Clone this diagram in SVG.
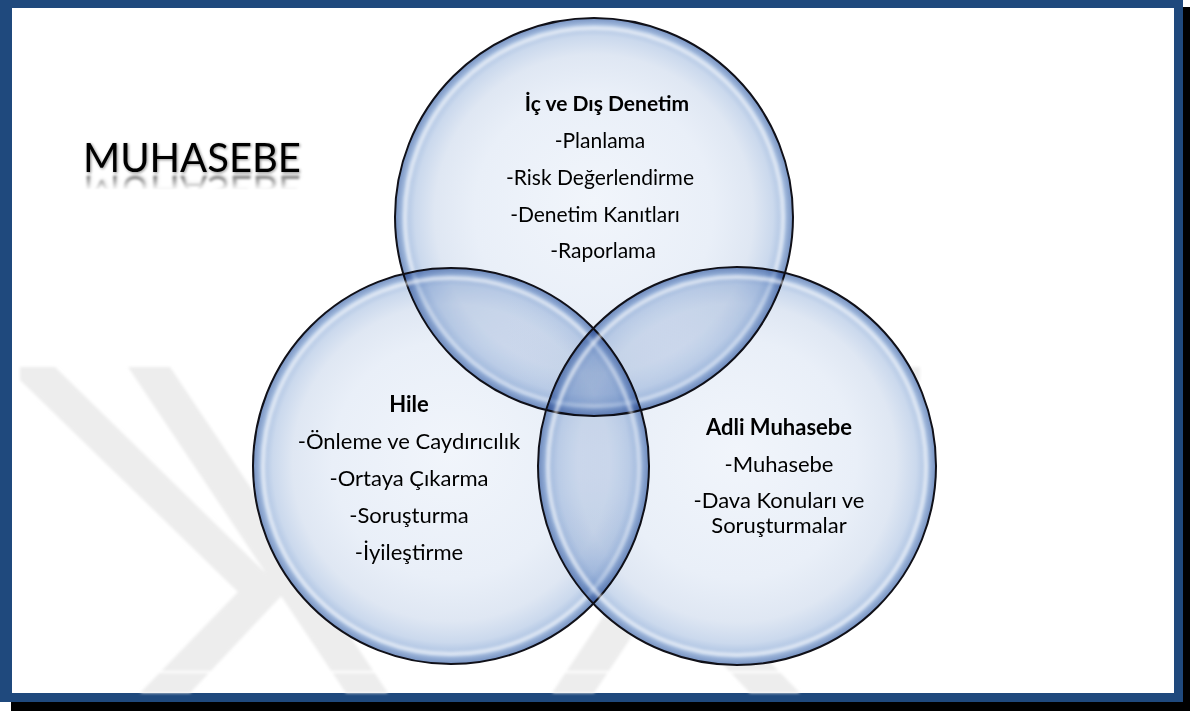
<svg xmlns="http://www.w3.org/2000/svg" xmlns:xlink="http://www.w3.org/1999/xlink" width="1190" height="711" viewBox="0 0 1190 711">
  <defs>
    <style>
      .t { font-family: Lato, 'Liberation Sans', sans-serif; fill: #000; text-anchor: middle; }
      .top { font-size: 21px; }
      .low { font-size: 22px; }
      .b { font-weight: bold; }
      .bubble { fill: url(#bubbleGrad); mix-blend-mode: multiply; }
      .hl { fill: none; stroke: #ffffff; stroke-width: 4; opacity: 0.6; filter: url(#soft); }
      .ol { fill: none; stroke: #101018; stroke-width: 2; }
      .wm { fill: #ededed; }
      .wm2 { fill: #ffffff; opacity: 0.22; }
    </style>
    <radialGradient id="bubbleGrad" cx="50%" cy="50%" r="50%" fx="50%" fy="46%">
      <stop offset="0" stop-color="#f1f5fb"/>
      <stop offset="0.6" stop-color="#e9eff8"/>
      <stop offset="0.8" stop-color="#dfe7f3"/>
      <stop offset="0.9" stop-color="#cbd9ed"/>
      <stop offset="0.96" stop-color="#a9c0e1"/>
      <stop offset="1" stop-color="#7591c1"/>
    </radialGradient>
    <filter id="soft" x="-10%" y="-10%" width="120%" height="120%">
      <feGaussianBlur stdDeviation="1.6"/>
    </filter>
    <filter id="wmBlur" x="-5%" y="-5%" width="110%" height="110%">
      <feGaussianBlur stdDeviation="1.5"/>
    </filter>
    <filter id="titleShadow" x="-10%" y="-30%" width="120%" height="160%">
      <feGaussianBlur in="SourceAlpha" stdDeviation="1.5" result="b"/>
      <feOffset dx="1" dy="1" in="b" result="o"/>
      <feComponentTransfer in="o" result="s"><feFuncA type="linear" slope="0.45"/></feComponentTransfer>
      <feMerge><feMergeNode in="s"/><feMergeNode in="SourceGraphic"/></feMerge>
    </filter>
    <filter id="reflBlur"><feGaussianBlur stdDeviation="0.8"/></filter>
    <linearGradient id="reflFade" gradientUnits="userSpaceOnUse" x1="0" y1="174" x2="0" y2="190">
      <stop offset="0" stop-color="#fff" stop-opacity="0.55"/>
      <stop offset="1" stop-color="#fff" stop-opacity="0"/>
    </linearGradient>
    <mask id="reflMask" maskUnits="userSpaceOnUse" x="60" y="170" width="270" height="40">
      <rect x="60" y="170" width="270" height="40" fill="url(#reflFade)"/>
    </mask>
    <g id="wmShapes">
      <polygon points="20,367 55,367 285,592 190,693 140,693 238,592 20,380"/>
      <polygon points="920,367 885,367 655,592 750,693 800,693 702,592 920,380"/>
      <polygon points="128,367 170,367 388,693 346,693"/>
      <polygon points="812,367 770,367 552,693 594,693"/>
    </g>
  </defs>

  <!-- background and frame -->
  <rect x="0" y="0" width="1190" height="711" fill="#ffffff"/>
  <rect x="11" y="7" width="1179" height="704" fill="#000000"/>
  <rect x="0" y="0" width="1183" height="702" fill="#1f497d"/>
  <rect x="12" y="8" width="1162" height="685" fill="#ffffff"/>

  <!-- faint watermark -->
  <g id="watermark" filter="url(#wmBlur)">
    <use class="wm" xlink:href="#wmShapes" href="#wmShapes"/>
    <line x1="15" y1="672" x2="930" y2="672" stroke="#ffffff" stroke-width="2"/>
  </g>

  <!-- title -->
  <g id="title">
    <text id="muh" x="83" y="172" font-family="Lato, 'Liberation Sans', sans-serif" font-size="40" fill="#000" filter="url(#titleShadow)">MUHASEBE</text>
    <g mask="url(#reflMask)">
      <use xlink:href="#muh" href="#muh" transform="translate(0,348) scale(1,-1)" filter="url(#reflBlur)"/>
    </g>
  </g>

  <g id="connectors"></g>

  <g id="nodes" style="isolation:isolate">
    <!-- node: İç ve Dış Denetim -->
    <g id="node-denetim">
      <circle class="bubble" cx="594" cy="217" r="199"/>
      <circle class="hl" cx="594" cy="217" r="189"/>
      <circle class="ol" cx="594" cy="217" r="199"/>
      <text class="t top b" x="607" y="111">İç ve Dış Denetim</text>
      <text class="t top" x="600" y="148">-Planlama</text>
      <text class="t top" x="600" y="185">-Risk Değerlendirme</text>
      <text class="t top" x="595" y="222">-Denetim Kanıtları</text>
      <text class="t top" x="603" y="258">-Raporlama</text>
    </g>

    <!-- node: Hile -->
    <g id="node-hile">
      <circle class="bubble" cx="451" cy="466" r="198"/>
      <circle class="hl" cx="451" cy="466" r="188"/>
      <circle class="ol" cx="451" cy="466" r="198"/>
      <text class="t low b" x="409" y="412" font-size="23">Hile</text>
      <text class="t low" x="409" y="449">-Önleme ve Caydırıcılık</text>
      <text class="t low" x="409" y="486">-Ortaya Çıkarma</text>
      <text class="t low" x="409" y="523">-Soruşturma</text>
      <text class="t low" x="409" y="560">-İyileştirme</text>
    </g>

    <!-- node: Adli Muhasebe -->
    <g id="node-adli">
      <circle class="bubble" cx="737" cy="466" r="199"/>
      <circle class="hl" cx="737" cy="466" r="189"/>
      <circle class="ol" cx="737" cy="466" r="199"/>
      <text class="t low b" x="779" y="435">Adli Muhasebe</text>
      <text class="t low" x="779" y="472">-Muhasebe</text>
      <text class="t low" x="779" y="508">-Dava Konuları ve</text>
      <text class="t low" x="779" y="533">Soruşturmalar</text>
    </g>
  </g>
</svg>
